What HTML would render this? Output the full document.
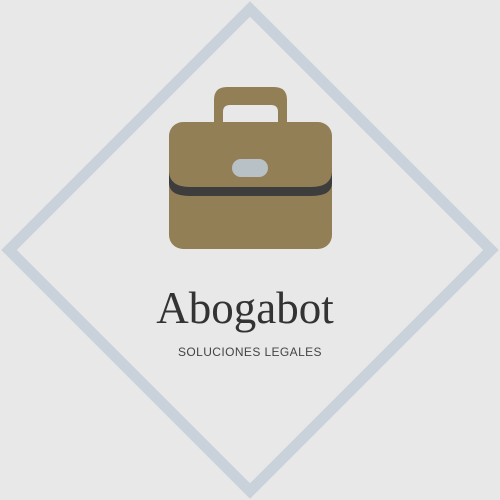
<!DOCTYPE html>
<html><head><style>
html,body{margin:0;padding:0;background:#e8e8e8;}
svg{display:block}
</style></head><body>
<svg width="500" height="500" viewBox="0 0 500 500">
<rect width="500" height="500" fill="#e8e8e8"/>
<polygon points="250,9 491,250 250,491 9,250" fill="none" stroke="#c9d1da" stroke-width="11"/>
<g>
<path d="M214,123 V100 Q214,87 227,87 H274 Q287,87 287,100 V123 H278 V112 Q278,105 271,105 H230 Q223,105 223,112 V123 Z" fill="#937f55"/>
<rect x="169" y="122" width="163" height="127" rx="14" fill="#937f55"/>
<path d="M169,172 Q170,187 190,187 H311 Q331,187 332,172 V183 Q332,196 311,196 H190 Q169,196 169,183 Z" fill="#3d3d3d"/>
<rect x="232" y="159" width="36" height="18" rx="9" fill="#b8c1c5"/>
</g>
<text x="245" y="323" text-anchor="middle" font-family="'Liberation Serif',serif" font-size="45" fill="#333">Abogabot</text>
<text x="250" y="356" text-anchor="middle" font-family="'Liberation Sans',sans-serif" font-size="12" letter-spacing="0.4" fill="#444">SOLUCIONES LEGALES</text>
</svg>
</body></html>
